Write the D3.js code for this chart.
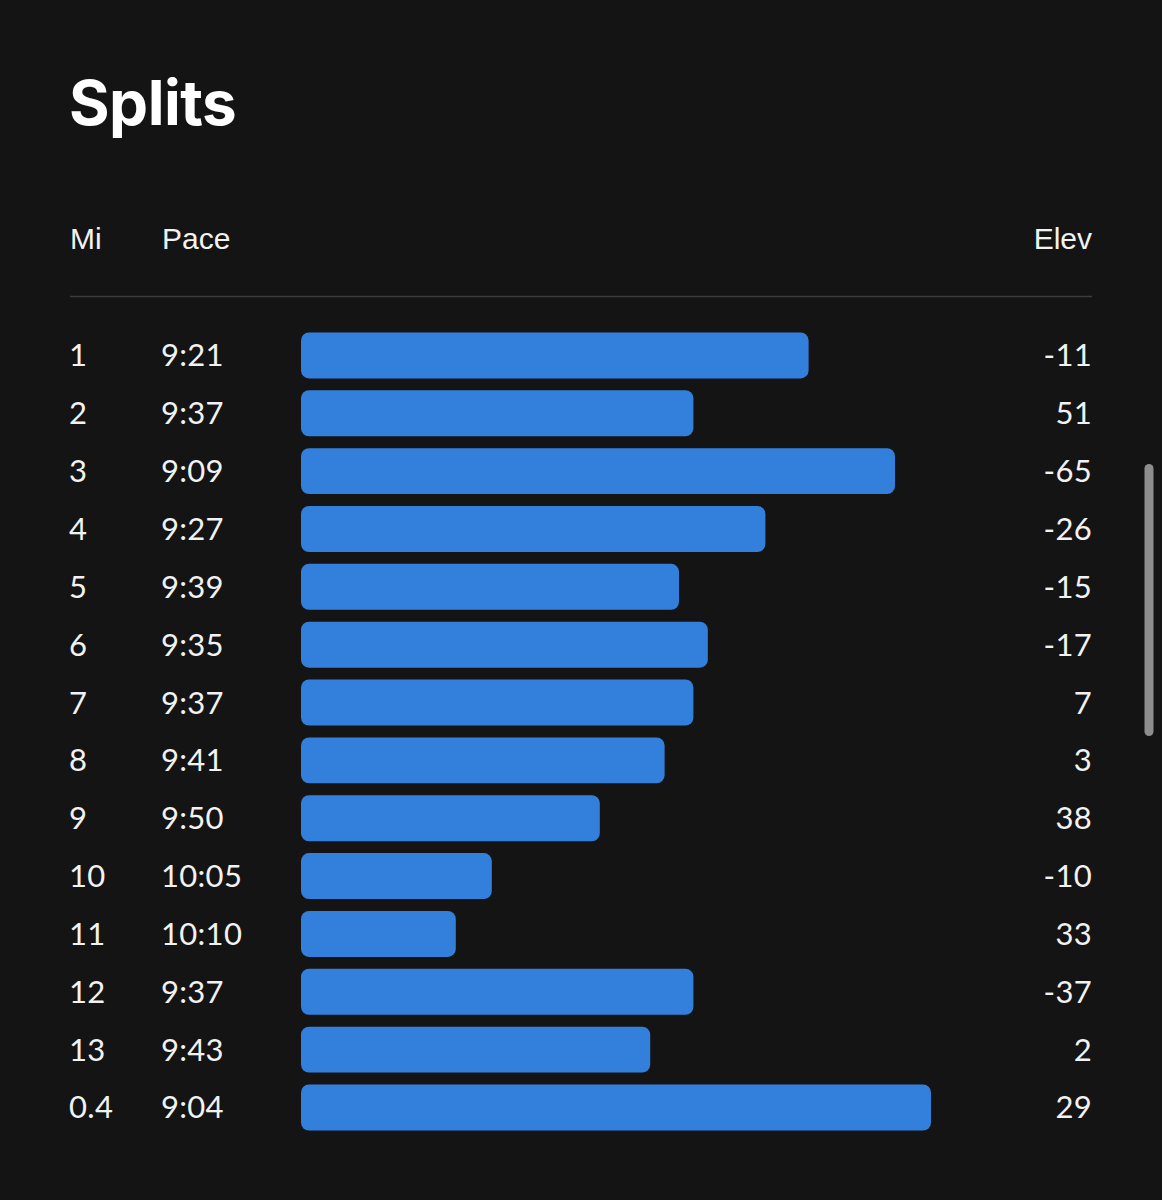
<!DOCTYPE html>
<html>
<head>
<meta charset="utf-8">
<script src="https://cdn.jsdelivr.net/npm/d3@7"></script>
<style>
  body { margin: 0; background: #141414; }
</style>
</head>
<body>
<div id="chart"></div>
<script>
// split data
var miles = ["1", "2", "3", "4", "5", "6", "7", "8", "9", "10", "11", "12", "13", "0.4"];
var paces = ["9:21", "9:37", "9:09", "9:27", "9:39", "9:35", "9:37", "9:41", "9:50", "10:05", "10:10", "9:37", "9:43", "9:04"];
var elevs = [-11, 51, -65, -26, -15, -17, 7, 3, 38, -10, 33, -37, 2, 29];
var headers = ["Mi", "Pace", "Elev"];

function toSec(p) {
  var parts = p.split(":");
  return +parts[0] * 60 + +parts[1];
}

var rows = miles.map(function (m, i) {
  return { mile: m, pace: paces[i], sec: toSec(paces[i]), elev: elevs[i] };
});

var W = 1162, H = 1200;
var left = 70, right = 1092;

var svg = d3.select("#chart").append("svg")
  .attr("width", W)
  .attr("height", H);

svg.append("rect").attr("width", W).attr("height", H).attr("fill", "#141414");

// title
svg.append("text")
  .attr("x", 69)
  .attr("y", 125)
  .attr("fill", "#ffffff")
  .style("font-family", "Inter, 'Liberation Sans', sans-serif")
  .style("font-weight", 700)
  .style("font-size", "62px")
  .style("letter-spacing", "-0.5px")
  .text("Splits");

// column headers
var headX = [left, 162, right];
svg.selectAll("text.head")
  .data(headers)
  .enter()
  .append("text")
  .attr("class", "head")
  .attr("x", function (d, i) { return headX[i]; })
  .attr("y", 249)
  .attr("text-anchor", function (d, i) { return i === 2 ? "end" : "start"; })
  .attr("fill", "#f2f2f2")
  .style("font-family", "'Liberation Sans', Arial, sans-serif")
  .style("font-size", "30px")
  .text(function (d) { return d; });

svg.append("line")
  .attr("x1", left).attr("x2", right)
  .attr("y1", 296.5).attr("y2", 296.5)
  .attr("stroke", "#3c3c3c")
  .attr("stroke-width", 1.5);

// scales
var y = d3.scaleBand()
  .domain(miles)
  .range([326.5, 326.5 + 14 * 57.85])
  .paddingInner(0.205)
  .paddingOuter(0.1025);

// faster pace -> longer bar
var x = d3.scaleLinear()
  .domain([631.5, 540])
  .range([301, 301 + 658.8]);

svg.selectAll("rect.bar")
  .data(rows)
  .enter()
  .append("rect")
  .attr("class", "bar")
  .attr("x", x(631.5))
  .attr("y", function (d) { return y(d.mile); })
  .attr("width", function (d) { return x(d.sec) - x(631.5); })
  .attr("height", y.bandwidth())
  .attr("rx", 8)
  .attr("ry", 8)
  .attr("fill", "#3380dc");

var numFont = "Lato, 'Open Sans', sans-serif";

function rowText(cls, xPos, anchor, fn) {
  svg.selectAll("text." + cls)
    .data(rows)
    .enter()
    .append("text")
    .attr("class", cls)
    .attr("x", xPos)
    .attr("y", function (d) { return y(d.mile) + y.bandwidth() / 2 + 11; })
    .attr("text-anchor", anchor)
    .attr("fill", "#f2f2f2")
    .style("font-family", numFont)
    .style("font-size", "31px")
    .style("letter-spacing", "0.3px")
    .text(fn);
}

rowText("mi", 69, "start", function (d) { return d.mile; });
rowText("pace", 161, "start", function (d) { return d.pace; });
rowText("elev", right, "end", function (d) { return d.elev; });

// scrollbar thumb
svg.append("rect")
  .attr("x", 1144.5).attr("y", 464)
  .attr("width", 9).attr("height", 272)
  .attr("rx", 4.5)
  .attr("fill", "#8e8e8e");
</script>
</body>
</html>
